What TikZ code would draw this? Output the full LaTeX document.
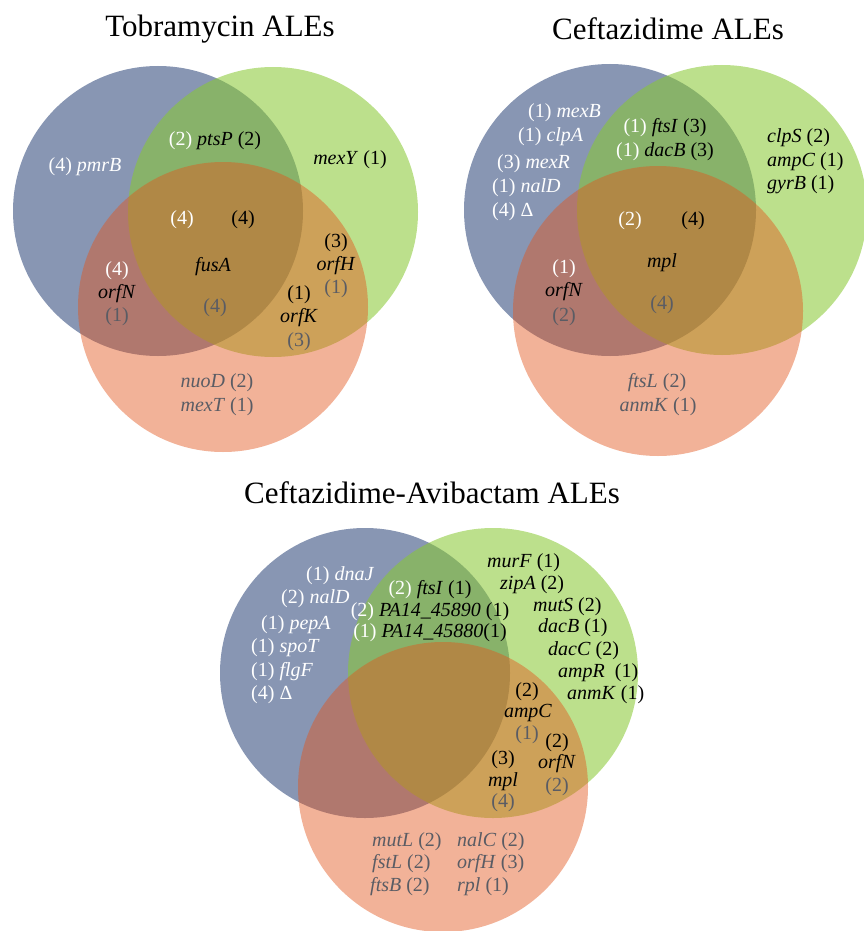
\documentclass[tikz,border=0pt]{standalone}
\usepackage{fontspec}
\setmainfont{Liberation Serif}
\definecolor{cblue}{RGB}{136,150,179}
\definecolor{cgreen}{RGB}{136,200,50}
\definecolor{cred}{RGB}{226,86,29}
\definecolor{tgray}{RGB}{90,92,100}
\tikzset{
  bluec/.style={fill=cblue},
  greenc/.style={fill=cgreen, fill opacity=0.56},
  redc/.style={fill=cred, fill opacity=0.455},
  t/.style={inner sep=0pt, font=\fontsize{20}{24}\selectfont, text=black},
  tw/.style={t, text=white},
  tg/.style={t, text=tgray},
  ttl/.style={inner sep=0pt, font=\fontsize{31}{36}\selectfont},
}
\newcommand{\wt}[1]{{\color{white}#1}}
\newcommand{\gt}[1]{{\color{tgray}#1}}
\begin{document}
\begin{tikzpicture}[x=1pt,y=-1pt]
\useasboundingbox (0,0) rectangle (864,931);
% ---------- Tobramycin ----------
\node[ttl] (title1) at (220,29) {Tobramycin ALEs};
\fill[bluec] (158,211) circle (145);
\fill[greenc] (273,212) circle (145);
\fill[redc] (223,307) circle (145);
\node[tw] (a1) at (85,167) {(4) \textit{pmrB}};
\node[t] (a2) at (215,141) {\wt{(2)} \textit{ptsP} (2)};
\node[t] (a3) at (350,160) {\textit{mexY} (1)};
\node[tw] (a4) at (182,220) {(4)};
\node[t] (a5) at (243,220) {(4)};
\node[t] (a6) at (213,267) {\textit{fusA}};
\node[tg] (a7) at (215,308) {(4)};
\node[tw] (a8) at (117,271) {(4)};
\node[t] (a9) at (117,294) {\textit{orfN}};
\node[tg] (a10) at (117,317) {(1)};
\node[t] (a11) at (336,243) {(3)};
\node[t] (a12) at (336,266) {\textit{orfH}};
\node[tg] (a13) at (336,289) {(1)};
\node[t] (a14) at (299,295) {(1)};
\node[t] (a15) at (299,318) {\textit{orfK}};
\node[tg] (a16) at (299,342) {(3)};
\node[tg] (a17) at (217,383) {\textit{nuoD} (2)};
\node[tg] (a18) at (217,407) {\textit{mexT} (1)};
% ---------- Ceftazidime ----------
\node[ttl] (title2) at (668,29) {Ceftazidime ALEs};
\fill[bluec] (610,210) circle (146);
\fill[greenc] (722,210) circle (145);
\fill[redc] (658,311) circle (145);
\node[tw,anchor=west] (b1) at (528,113) {(1) \textit{mexB}};
\node[tw,anchor=west] (b2) at (518,137) {(1) \textit{clpA}};
\node[tw,anchor=west] (b3) at (497,164) {(3) \textit{mexR}};
\node[tw,anchor=west] (b4) at (492,188) {(1) \textit{nalD}};
\node[tw,anchor=west] (b5) at (492,212) {(4) Δ};
\node[t] (b6) at (665,128) {\wt{(1)} \textit{ftsI} (3)};
\node[t] (b7) at (665,152) {\wt{(1)} \textit{dacB} (3)};
\node[t,anchor=west] (b8) at (767,138) {\textit{clpS} (2)};
\node[t,anchor=west] (b9) at (767,162) {\textit{ampC} (1)};
\node[t,anchor=west] (b10) at (767,185) {\textit{gyrB} (1)};
\node[tw] (b11) at (630,221) {(2)};
\node[t] (b12) at (693,221) {(4)};
\node[t] (b13) at (662,263) {\textit{mpl}};
\node[tg] (b14) at (662,305) {(4)};
\node[tw] (b15) at (564,269) {(1)};
\node[t] (b16) at (564,292) {\textit{orfN}};
\node[tg] (b17) at (564,317) {(2)};
\node[tg] (b18) at (657,383) {\textit{ftsL} (2)};
\node[tg] (b19) at (658,407) {\textit{anmK} (1)};
% ---------- Ceftazidime-Avibactam ----------
\node[ttl] (title3) at (432,493) {Ceftazidime-Avibactam ALEs};
\fill[bluec] (365,673) circle (145);
\fill[greenc] (493,673) circle (145);
\fill[redc] (443,787) circle (145);
\node[tw,anchor=west] (c1) at (306,576) {(1) \textit{dnaJ}};
\node[tw,anchor=west] (c2) at (281,599) {(2) \textit{nalD}};
\node[tw,anchor=west] (c3) at (261,625) {(1) \textit{pepA}};
\node[tw,anchor=west] (c4) at (251,648) {(1) \textit{spoT}};
\node[tw,anchor=west] (c5) at (251,672) {(1) \textit{flgF}};
\node[tw,anchor=west] (c6) at (251,695) {(4) Δ};
\node[t] (c7) at (430,590) {\wt{(2)} \textit{ftsI} (1)};
\node[t] (c8) at (430,612) {\wt{(2)} \textit{PA14\_45890} (1)};
\node[t] (c9) at (430,633) {\wt{(1)} \textit{PA14\_45880}(1)};
\node[t,anchor=west] (c10) at (487,563) {\textit{murF} (1)};
\node[t,anchor=west] (c11) at (500,585) {\textit{zipA} (2)};
\node[t,anchor=west] (c12) at (533,607) {\textit{mutS} (2)};
\node[t,anchor=west] (c13) at (538,628) {\textit{dacB} (1)};
\node[t,anchor=west] (c14) at (548,651) {\textit{dacC} (2)};
\node[t,anchor=west] (c15) at (558,673) {\textit{ampR}\ \ (1)};
\node[t,anchor=west] (c16) at (567,695) {\textit{anmK} (1)};
\node[t] (c17) at (527,692) {(2)};
\node[t] (c18) at (528,713) {\textit{ampC}};
\node[tg] (c19) at (527,735) {(1)};
\node[t] (c20) at (557,743) {(2)};
\node[t] (c21) at (557,764) {\textit{orfN}};
\node[tg] (c22) at (557,787) {(2)};
\node[t] (c23) at (503,760) {(3)};
\node[t] (c24) at (503,782) {\textit{mpl}};
\node[tg] (c25) at (503,803) {(4)};
\node[tg,anchor=west] (c26) at (372,842) {\textit{mutL} (2)};
\node[tg,anchor=west] (c27) at (372,864) {\textit{fstL} (2)};
\node[tg,anchor=west] (c28) at (370,887) {\textit{ftsB} (2)};
\node[tg,anchor=west] (c29) at (457,842) {\textit{nalC} (2)};
\node[tg,anchor=west] (c30) at (457,864) {\textit{orfH} (3)};
\node[tg,anchor=west] (c31) at (457,887) {\textit{rpl} (1)};
\end{tikzpicture}
\end{document}
